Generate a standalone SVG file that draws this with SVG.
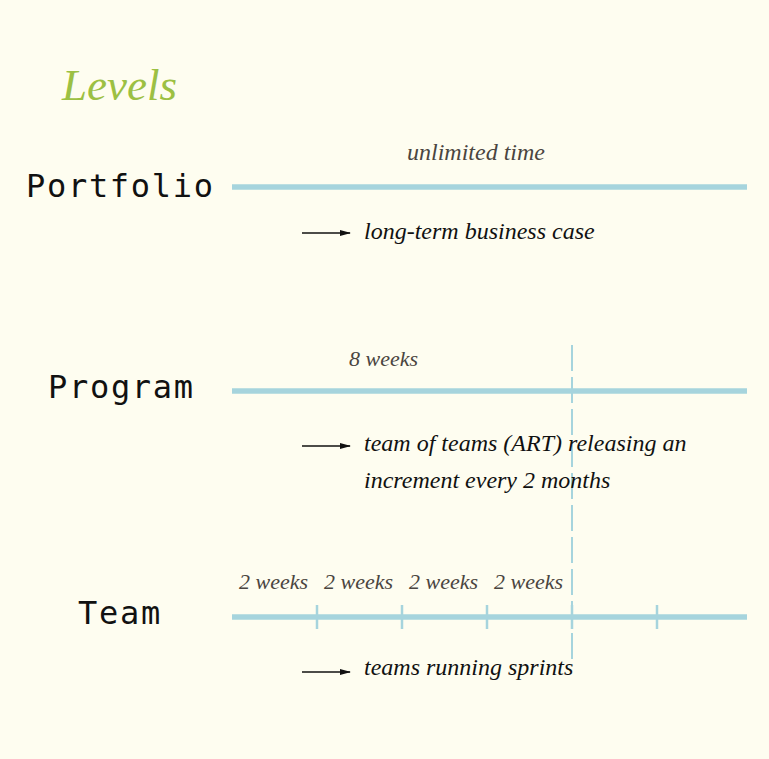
<svg xmlns="http://www.w3.org/2000/svg" width="769" height="759" viewBox="0 0 769 759">
<defs>
<marker id="ah" markerWidth="11" markerHeight="8" refX="10" refY="4" orient="auto" markerUnits="userSpaceOnUse">
<path d="M0,1 L11,4 L0,7 Z" fill="#111"/>
</marker>
<style>
.bg{fill:#FEFDF0}
.tl{stroke:#A6D4DD;stroke-width:5.5;fill:none}
.tick{stroke:#A6D4DD;stroke-width:2.5;fill:none}
.dash{stroke:#A6D4DD;stroke-width:2;fill:none;stroke-dasharray:26 6}
.arr{stroke:#111;stroke-width:1.3;fill:none;marker-end:url(#ah)}
.lvl{font-family:"DejaVu Sans Mono","Liberation Mono",monospace;font-size:32px;letter-spacing:1.7px;fill:#111}
.it{font-family:"Liberation Serif","DejaVu Serif",serif;font-style:italic;font-size:24px;fill:#111}
.du{font-family:"Liberation Serif","DejaVu Serif",serif;font-style:italic;font-size:22px;fill:#4a4540}
.title{font-family:"Liberation Serif","DejaVu Serif",serif;font-style:italic;font-size:45px;fill:#9CC043}
</style>
</defs>
<rect class="bg" x="0" y="0" width="769" height="759"/>
<text class="title" x="62" y="100">Levels</text>
<g id="connectors">
<line class="dash" x1="572" y1="345" x2="572" y2="663"/>
<line class="arr" x1="302" y1="233" x2="350" y2="233"/>
<line class="arr" x1="302" y1="446" x2="350" y2="446"/>
<line class="arr" x1="302" y1="672" x2="350" y2="672"/>
</g>
<g id="portfolio">
<text class="lvl" x="26" y="197">Portfolio</text>
<line class="tl" x1="232" y1="187" x2="747" y2="187"/>
<text class="du" x="476" y="160" text-anchor="middle" style="font-size:24px">unlimited time</text>
<text class="it" x="364" y="239">long-term business case</text>
</g>
<g id="program">
<text class="lvl" x="48" y="398">Program</text>
<line class="tl" x1="232" y1="391" x2="747" y2="391"/>
<text class="du" x="349" y="366">8 weeks</text>
<text class="it" x="364" y="451">team of teams (ART) releasing an</text>
<text class="it" x="364" y="488">increment every 2 months</text>
</g>
<g id="team">
<text class="lvl" x="78" y="624">Team</text>
<line class="tl" x1="232" y1="617" x2="747" y2="617"/>
<line class="tick" x1="317" y1="605" x2="317" y2="629"/>
<line class="tick" x1="402" y1="605" x2="402" y2="629"/>
<line class="tick" x1="487" y1="605" x2="487" y2="629"/>
<line class="tick" x1="572" y1="605" x2="572" y2="629"/>
<line class="tick" x1="657" y1="605" x2="657" y2="629"/>
<text class="du" x="239" y="589">2 weeks</text>
<text class="du" x="324" y="589">2 weeks</text>
<text class="du" x="409" y="589">2 weeks</text>
<text class="du" x="494" y="589">2 weeks</text>
<text class="it" x="364" y="675">teams running sprints</text>
</g>
</svg>
